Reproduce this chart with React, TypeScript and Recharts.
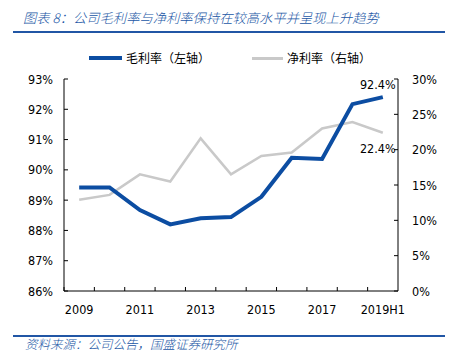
import React from "react"
import { LineChart, Line, XAxis, YAxis, LabelList } from "recharts"

const years = ["2009", "2010", "2011", "2012", "2013", "2014", "2015", "2016", "2017", "2018", "2019H1"]
const grossMargin = [89.42, 89.42, 88.67, 88.2, 88.4, 88.44, 89.11, 90.4, 90.36, 92.17, 92.4]
const netMargin = [12.9, 13.6, 16.5, 15.5, 21.6, 16.5, 19.1, 19.6, 23.0, 23.9, 22.4]
const leftTicks = [86, 87, 88, 89, 90, 91, 92, 93]
const rightTicks = [0, 5, 10, 15, 20, 25, 30]

const data = years.map((year, i) => ({ year, gross: grossMargin[i], net: netMargin[i] }))

const BLUE = "#0c4da2"
const GREY = "#c9c9c9"
const TITLE_BLUE = "#2156a5"
const TICK_FONT = "'DejaVu Sans Condensed', 'DejaVu Sans', sans-serif"
const CJK_FONT = "'Noto Sans CJK SC', sans-serif"

// plot area
const PLOT_LEFT = 64
const PLOT_RIGHT = 398
const PLOT_TOP = 79
const PLOT_BOTTOM = 291
const BAND = (PLOT_RIGHT - PLOT_LEFT) / years.length

const LeftTick = (props: any) => {
  const { y, payload } = props
  return (
    <g>
      <line x1={PLOT_LEFT} x2={PLOT_LEFT + 4} y1={y} y2={y} stroke="#000" strokeWidth={1} />
      <text x={PLOT_LEFT - 11} y={y} dy={4.5} textAnchor="end" fontSize={12.5} fontFamily={TICK_FONT} fill="#000">
        {payload.value}%
      </text>
    </g>
  )
}

const RightTick = (props: any) => {
  const { y, payload } = props
  return (
    <g>
      <line x1={PLOT_RIGHT - 4} x2={PLOT_RIGHT} y1={y} y2={y} stroke="#000" strokeWidth={1} />
      <text x={PLOT_RIGHT + 14} y={y} dy={4.5} textAnchor="start" fontSize={12.5} fontFamily={TICK_FONT} fill="#000">
        {payload.value}%
      </text>
    </g>
  )
}

const BottomTick = (props: any) => {
  const { x, payload, index } = props
  const edge = x - BAND / 2
  return (
    <g>
      <line x1={edge} x2={edge} y1={PLOT_BOTTOM} y2={PLOT_BOTTOM - 4} stroke="#000" strokeWidth={1} />
      {index % 2 === 0 && (
        <text x={x} y={PLOT_BOTTOM + 18} dy={4.5} textAnchor="middle" fontSize={12.5} fontFamily={TICK_FONT} fill="#000">
          {payload.value}
        </text>
      )}
    </g>
  )
}

const lastLabel = (offset: number) => (props: any) => {
  const { x, y, value, index } = props
  if (index !== years.length - 1) return null
  return (
    <text x={x - 5} y={y + offset} textAnchor="middle" fontSize={12.5} fontFamily={TICK_FONT} fill="#000">
      {value}%
    </text>
  )
}

export default function App() {
  return (
    <div style={{ position: "absolute", left: 0, top: 0, width: 450, height: 361, background: "#fff" }}>
      <div
        style={{
          position: "absolute", left: 23, top: 8, fontFamily: CJK_FONT, fontStyle: "italic", fontWeight: 300,
          fontSize: 13.3, color: TITLE_BLUE, whiteSpace: "nowrap", lineHeight: "20px",
        }}
      >
        图表 8：公司毛利率与净利率保持在较高水平并呈现上升趋势
      </div>
      <div style={{ position: "absolute", left: 13, top: 31, width: 432, height: 2, background: TITLE_BLUE }} />

      <div style={{ position: "absolute", left: 89, top: 56, width: 33, height: 4, background: BLUE }} />
      <div style={{ position: "absolute", left: 126, top: 49, fontFamily: CJK_FONT, fontSize: 12, lineHeight: "18px", color: "#000", whiteSpace: "nowrap" }}>
        毛利率（左轴）
      </div>
      <div style={{ position: "absolute", left: 252, top: 57, width: 31, height: 2.5, background: GREY }} />
      <div style={{ position: "absolute", left: 287, top: 49, fontFamily: CJK_FONT, fontSize: 12, lineHeight: "18px", color: "#000", whiteSpace: "nowrap" }}>
        净利率（右轴）
      </div>

      <div style={{ position: "absolute", left: 0, top: 0 }}>
        <LineChart width={450} height={361} data={data} margin={{ top: PLOT_TOP, right: 0, bottom: 0, left: 0 }}>
          <XAxis
            dataKey="year"
            height={361 - PLOT_BOTTOM}
            interval={0}
            padding={{ left: BAND / 2, right: BAND / 2 }}
            tickLine={false}
            axisLine={{ stroke: "#000", strokeWidth: 1 }}
            tick={<BottomTick />}
          />
          <YAxis
            yAxisId="left"
            width={PLOT_LEFT}
            domain={[86, 93]}
            ticks={leftTicks}
            tickLine={false}
            axisLine={{ stroke: "#000", strokeWidth: 1 }}
            tick={<LeftTick />}
          />
          <YAxis
            yAxisId="right"
            orientation="right"
            width={450 - PLOT_RIGHT}
            domain={[0, 30]}
            ticks={rightTicks}
            tickLine={false}
            axisLine={{ stroke: "#000", strokeWidth: 1 }}
            tick={<RightTick />}
          />
          <Line
            yAxisId="right"
            dataKey="net"
            stroke={GREY}
            strokeWidth={2.5}
            dot={false}
            type="linear"
            isAnimationActive={false}
          >
            <LabelList dataKey="net" content={lastLabel(20)} />
          </Line>
          <Line
            yAxisId="left"
            dataKey="gross"
            stroke={BLUE}
            strokeWidth={4}
            dot={false}
            type="linear"
            isAnimationActive={false}
          >
            <LabelList dataKey="gross" content={lastLabel(-8)} />
          </Line>
        </LineChart>
      </div>

      <div style={{ position: "absolute", left: 13, top: 335, width: 432, height: 2, background: TITLE_BLUE }} />
      <div
        style={{
          position: "absolute", left: 25, top: 335, fontFamily: CJK_FONT, fontStyle: "italic", fontWeight: 300,
          fontSize: 12.5, color: TITLE_BLUE, whiteSpace: "nowrap", lineHeight: "18px",
        }}
      >
        资料来源：公司公告，国盛证券研究所
      </div>
    </div>
  )
}
